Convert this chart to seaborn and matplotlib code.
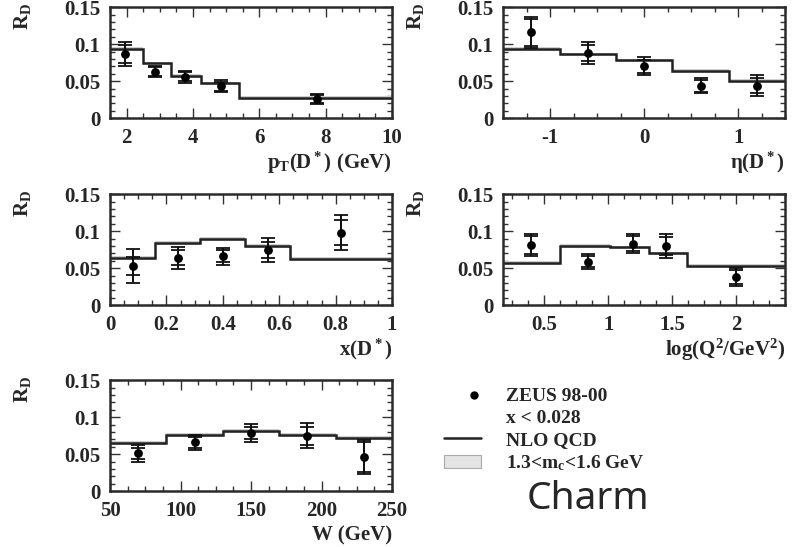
import matplotlib
matplotlib.use("Agg")
import matplotlib.pyplot as plt
from matplotlib.ticker import AutoMinorLocator, FixedLocator
from matplotlib.lines import Line2D
from matplotlib.patches import Patch
from matplotlib.legend_handler import HandlerBase
import seaborn as sns
import pandas as pd

# ---- ZEUS 98-00 charm fragmentation ratio R_D ----
pt_centers = [1.95, 2.85, 3.75, 4.85, 7.75]
pt_rd = [0.087, 0.063, 0.056, 0.043, 0.026]
pt_tot = [0.016, 0.008, 0.008, 0.008, 0.007]
pt_stat = [0.012, 0.006, 0.006, 0.006, 0.005]
pt_edges = [1.5, 2.5, 3.35, 4.25, 5.4, 10.0]
pt_nlo = [0.093, 0.074, 0.057, 0.047, 0.027]

eta_centers = [-1.2, -0.6, 0.0, 0.6, 1.2]
eta_rd = [0.116, 0.088, 0.070, 0.044, 0.044]
eta_tot = [0.021, 0.015, 0.012, 0.010, 0.014]
eta_stat = [0.018, 0.011, 0.009, 0.008, 0.010]
eta_edges = [-1.5, -0.9, -0.3, 0.3, 0.9, 1.5]
eta_nlo = [0.093, 0.086, 0.078, 0.064, 0.050]

x_centers = [0.08, 0.24, 0.40, 0.56, 0.82]
x_rd = [0.053, 0.064, 0.066, 0.075, 0.098]
x_tot = [0.023, 0.015, 0.011, 0.016, 0.024]
x_stat = [0.012, 0.010, 0.008, 0.011, 0.017]
x_edges = [0.0, 0.16, 0.32, 0.48, 0.64, 1.0]
x_nlo = [0.064, 0.084, 0.089, 0.080, 0.062]

q2_centers = [0.40, 0.84, 1.19, 1.45, 2.0]
q2_rd = [0.081, 0.059, 0.083, 0.080, 0.038]
q2_tot = [0.015, 0.010, 0.013, 0.016, 0.012]
q2_stat = [0.012, 0.007, 0.010, 0.012, 0.009]
q2_edges = [0.18, 0.62, 1.01, 1.32, 1.61, 2.38]
q2_nlo = [0.057, 0.080, 0.078, 0.070, 0.053]

w_centers = [70, 110, 150, 190, 230]
w_rd = [0.051, 0.066, 0.079, 0.075, 0.046]
w_tot = [0.012, 0.010, 0.012, 0.017, 0.023]
w_stat = [0.008, 0.007, 0.008, 0.012, 0.020]
w_edges = [50, 90, 130, 170, 210, 250]
w_nlo = [0.065, 0.076, 0.081, 0.076, 0.072]

y_ticks = [0, 0.05, 0.1, 0.15]
y_ticklabels = ["0", "0.05", "0.1", "0.15"]

sns.set_theme(style="ticks")
plt.rcParams["font.family"] = ["Liberation Serif", "DejaVu Serif"]
plt.rcParams["font.weight"] = "bold"
plt.rcParams["mathtext.fontset"] = "custom"
plt.rcParams["mathtext.rm"] = "Liberation Serif:bold"
plt.rcParams["mathtext.it"] = "Liberation Serif:bold"
plt.rcParams["mathtext.bf"] = "Liberation Serif:bold"

fig = plt.figure(figsize=(8.0, 5.47), dpi=100)

W_AX, H_AX = 0.3525, 0.203
panels = [
    # (left, bottom, centers, rd, tot, stat, edges, nlo, xlim, xticks, xticklabels, xlabel)
    (0.1375, 0.784, pt_centers, pt_rd, pt_tot, pt_stat, pt_edges, pt_nlo,
     (1.5, 10), [2, 4, 6, 8, 10], ["2", "4", "6", "8", "10"], r"p$_\mathrm{T}$(D$^*$) (GeV)"),
    (0.629, 0.784, eta_centers, eta_rd, eta_tot, eta_stat, eta_edges, eta_nlo,
     (-1.5, 1.5), [-1, 0, 1], ["-1", "0", "1"], r"η(D$^*$)"),
    (0.1375, 0.442, x_centers, x_rd, x_tot, x_stat, x_edges, x_nlo,
     (0, 1), [0, 0.2, 0.4, 0.6, 0.8, 1], ["0", "0.2", "0.4", "0.6", "0.8", "1"], r"x(D$^*$)"),
    (0.629, 0.442, q2_centers, q2_rd, q2_tot, q2_stat, q2_edges, q2_nlo,
     (0.18, 2.38), [0.5, 1, 1.5, 2], ["0.5", "1", "1.5", "2"], r"log(Q$^2$/GeV$^2$)"),
    (0.1375, 0.102, w_centers, w_rd, w_tot, w_stat, w_edges, w_nlo,
     (50, 250), [50, 100, 150, 200, 250], ["50", "100", "150", "200", "250"], r"W (GeV)"),
]

for (left, bottom, cen, rd, tot, stat, edges, nlo, xlim, xt, xtl, xlabel) in panels:
    ax = fig.add_axes([left, bottom, W_AX, H_AX])
    # NLO QCD prediction with its charm-mass band
    lo = [v - 0.0025 for v in nlo]
    hi = [v + 0.0025 for v in nlo]
    ax.fill_between(edges, lo + [lo[-1]], hi + [hi[-1]], step="post",
                    color="#cfcfcf", lw=0, zorder=1)
    ax.stairs(nlo, edges, color="#222222", lw=1.8, baseline=None, zorder=2)
    # data: total and statistical uncertainties
    ax.errorbar(cen, rd, yerr=tot, fmt="none", ecolor="#111111", elinewidth=1.4,
                capsize=5, capthick=1.3, zorder=3)
    ax.errorbar(cen, rd, yerr=stat, fmt="none", ecolor="#111111", elinewidth=1.4,
                capsize=5, capthick=1.3, zorder=3)
    df = pd.DataFrame({"x": cen, "rd": rd})
    sns.scatterplot(data=df, x="x", y="rd", ax=ax, color="black", s=40,
                    edgecolor="black", linewidth=0, zorder=4, legend=False)

    ax.set_xlim(*xlim)
    ax.set_ylim(0, 0.15)
    ax.xaxis.set_major_locator(FixedLocator(xt))
    ax.set_xticklabels(xtl)
    ax.yaxis.set_major_locator(FixedLocator(y_ticks))
    ax.set_yticklabels(y_ticklabels)
    ax.xaxis.set_minor_locator(AutoMinorLocator(4))
    ax.yaxis.set_minor_locator(AutoMinorLocator(5))
    ax.tick_params(which="both", direction="in", top=True, right=True,
                   color="#333333", width=1.0)
    ax.tick_params(which="major", length=7, labelsize=15, pad=7)
    ax.tick_params(which="minor", length=3.5)
    for lab in ax.get_xticklabels() + ax.get_yticklabels():
        lab.set_fontweight("bold")
    for sp in ax.spines.values():
        sp.set_color("#2a2a2a")
        sp.set_linewidth(1.8)
    ax.set_xlabel("")
    ax.set_ylabel("")
    ax.text(1.0, -0.40, xlabel, transform=ax.transAxes, ha="right", va="center",
            fontsize=15, fontweight="bold")
    ax.text(-0.31, 1.04, r"R$_\mathrm{D}$", transform=ax.transAxes, rotation=90,
            ha="center", va="top", fontsize=15, fontweight="bold")


class RightDotHandler(HandlerBase):
    """Legend handle drawing a single marker near the right end of the slot."""

    def create_artists(self, legend, orig_handle, xdescent, ydescent,
                       width, height, fontsize, trans):
        dot = Line2D([0.82 * width - xdescent], [height / 2 - ydescent], ls="none",
                     marker="o", color="black", markersize=5, transform=trans)
        return [dot]


data_handle = Line2D([], [], marker="o", color="black", ls="none", markersize=5)
handles = [
    data_handle,
    Line2D([], [], ls="none"),
    Line2D([], [], color="#222222", lw=1.8),
    Patch(facecolor="#e4e4e4", edgecolor="#aaaaaa", lw=0.8),
]
labels = ["ZEUS 98-00", "x < 0.028", "NLO QCD", r"1.3<m$_\mathrm{c}$<1.6 GeV"]
fig.legend(handles, labels, loc="upper left", bbox_to_anchor=(0.543, 0.309),
           frameon=False, handlelength=1.9, handletextpad=1.3,
           handler_map={data_handle: RightDotHandler()},
           labelspacing=0.22, borderpad=0, prop={"weight": "bold", "size": 14})

fig.text(0.735, 0.088, "Charm", ha="center", va="center", fontsize=28,
         family=["Noto Sans", "DejaVu Sans"], fontweight="normal")

fig.savefig("out.png", dpi=100)
